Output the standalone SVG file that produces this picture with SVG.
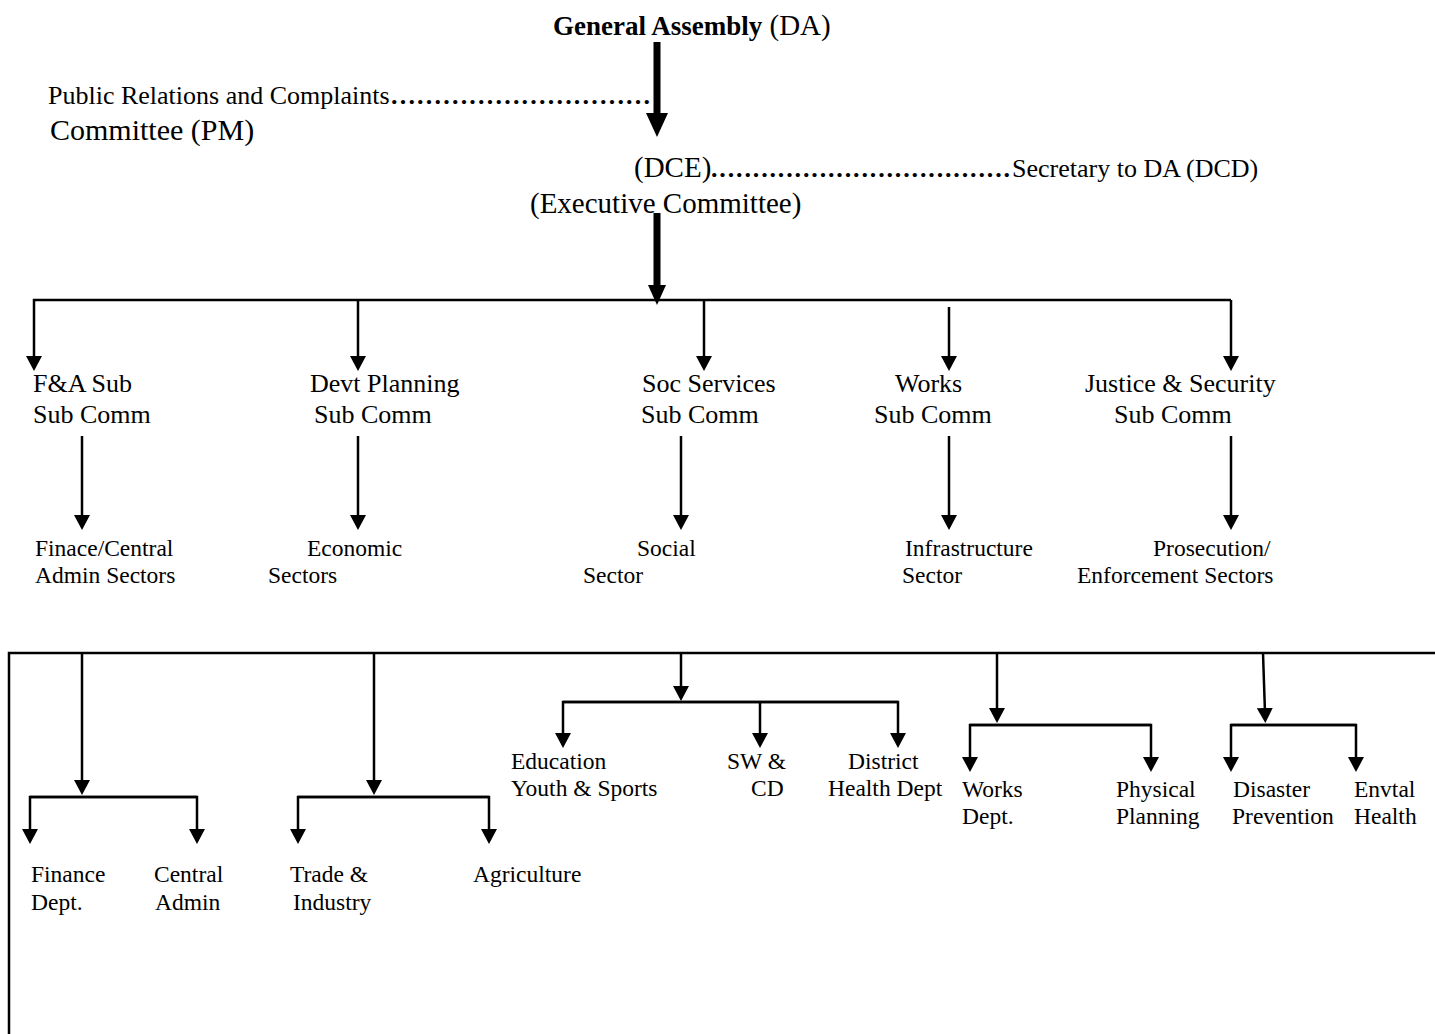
<svg xmlns="http://www.w3.org/2000/svg" width="1435" height="1034" viewBox="0 0 1435 1034">
<style>
text{font-family:"Liberation Serif","Times New Roman",serif;fill:#000}
.lg{font-size:29px}
.md{font-size:26px}
.sm{font-size:23.5px}
.b{font-weight:bold;font-size:27px}
.dots{font-weight:bold;font-size:26px}
.c{fill:none;stroke:#000;stroke-width:2.5}
.ca{fill:none;stroke:#000;stroke-width:2.5;marker-end:url(#ah)}
.thick{fill:none;stroke:#000;stroke-width:7}
</style>
<defs>
<marker id="ah" markerUnits="userSpaceOnUse" viewBox="0 -8 15 16" markerWidth="15" markerHeight="16" refX="5" refY="0" orient="auto"><path d="M0,-8 L15,0 L0,8 z" fill="#000"/></marker>
<marker id="thL" markerUnits="userSpaceOnUse" viewBox="0 -11 24 22" markerWidth="24" markerHeight="22" refX="6" refY="0" orient="auto"><path d="M0,-11 L24,0 L0,11 z" fill="#000"/></marker>
<marker id="thS" markerUnits="userSpaceOnUse" viewBox="0 -9 20 18" markerWidth="20" markerHeight="18" refX="6" refY="0" orient="auto"><path d="M0,-9 L20,0 L0,9 z" fill="#000"/></marker>
</defs>
<rect width="1435" height="1034" fill="#fff"/>

<g id="connectors">
<path class="thick" d="M657,42 V119" marker-end="url(#thL)"/>
<path class="thick" d="M657,213 V291" marker-end="url(#thS)"/>
<path class="ca" d="M1231,300 H34 V361"/>
<path class="ca" d="M1231,300 V361"/>
<path class="ca" d="M358,300 V361"/>
<path class="ca" d="M704,300 V361"/>
<path class="ca" d="M949,307 V361"/>
<path class="ca" d="M82,436 V520"/>
<path class="ca" d="M358,436 V520"/>
<path class="ca" d="M681,436 V520"/>
<path class="ca" d="M949,436 V520"/>
<path class="ca" d="M1231,436 V520"/>
<path class="c" d="M9,1034 V653 H1435"/>
<path class="ca" d="M82,653 V785"/>
<path class="ca" d="M197,797 H30 V834"/>
<path class="ca" d="M30,797 H197 V834"/>
<path class="ca" d="M374,653 V785"/>
<path class="ca" d="M489,797 H298 V834"/>
<path class="ca" d="M298,797 H489 V834"/>
<path class="ca" d="M681,653 V691"/>
<path class="ca" d="M898,702 H563 V738"/>
<path class="ca" d="M563,702 H898 V738"/>
<path class="ca" d="M760,702 V738"/>
<path class="ca" d="M997,653 V713"/>
<path class="ca" d="M1151,725 H970 V762"/>
<path class="ca" d="M970,725 H1151 V762"/>
<path class="ca" d="M1263,653 L1265,713"/>
<path class="ca" d="M1356,725 H1231 V762"/>
<path class="ca" d="M1231,725 H1356 V762"/>
</g>

<g id="general-assembly"><text x="553" y="35"><tspan class="b">General Assembly</tspan><tspan class="lg"> (DA)</tspan></text></g>
<g id="public-relations">
<text class="md" x="48" y="104">Public Relations and Complaints</text>
<text class="dots" x="391" y="104" textLength="259" lengthAdjust="spacing">..............................</text>
<text class="lg" x="50" y="140" style="font-size:30px">Committee (PM)</text>
</g>
<g id="dce">
<text class="lg" x="634" y="177">(DCE)</text>
<text class="dots" x="711" y="177" textLength="299" lengthAdjust="spacing">....................................</text>
<text class="md" x="1012" y="177">Secretary to DA (DCD)</text>
<text class="lg" x="530" y="213">(Executive Committee)</text>
</g>

<g id="fa-sub"><text class="md" x="33" y="392">F&amp;A Sub</text><text class="md" x="33" y="423">Sub Comm</text></g>
<g id="devt-sub"><text class="md" x="310" y="392">Devt Planning</text><text class="md" x="314" y="423">Sub Comm</text></g>
<g id="soc-sub"><text class="md" x="642" y="392">Soc Services</text><text class="md" x="641" y="423">Sub Comm</text></g>
<g id="works-sub"><text class="md" x="895" y="392">Works</text><text class="md" x="874" y="423">Sub Comm</text></g>
<g id="justice-sub"><text class="md" x="1085" y="392">Justice &amp; Security</text><text class="md" x="1114" y="423">Sub Comm</text></g>

<g id="finace-sectors"><text class="sm" x="35" y="556">Finace/Central</text><text class="sm" x="35" y="583">Admin Sectors</text></g>
<g id="economic-sectors"><text class="sm" x="307" y="556">Economic</text><text class="sm" x="268" y="583">Sectors</text></g>
<g id="social-sector"><text class="sm" x="637" y="556">Social</text><text class="sm" x="583" y="583">Sector</text></g>
<g id="infra-sector"><text class="sm" x="905" y="556">Infrastructure</text><text class="sm" x="902" y="583">Sector</text></g>
<g id="prosecution-sectors"><text class="sm" x="1153" y="556">Prosecution/</text><text class="sm" x="1077" y="583">Enforcement Sectors</text></g>

<g id="finance-dept"><text class="sm" x="31" y="882">Finance</text><text class="sm" x="31" y="910">Dept.</text></g>
<g id="central-admin"><text class="sm" x="154" y="882">Central</text><text class="sm" x="155" y="910">Admin</text></g>
<g id="trade-industry"><text class="sm" x="290" y="882">Trade &amp;</text><text class="sm" x="293" y="910">Industry</text></g>
<g id="agriculture"><text class="sm" x="473" y="882">Agriculture</text></g>
<g id="education"><text class="sm" x="511" y="769">Education</text><text class="sm" x="511" y="796">Youth &amp; Sports</text></g>
<g id="sw-cd"><text class="sm" x="727" y="769">SW &amp;</text><text class="sm" x="751" y="796">CD</text></g>
<g id="district-health"><text class="sm" x="848" y="769">District</text><text class="sm" x="828" y="796">Health Dept</text></g>
<g id="works-dept"><text class="sm" x="962" y="797">Works</text><text class="sm" x="962" y="824">Dept.</text></g>
<g id="physical-planning"><text class="sm" x="1116" y="797">Physical</text><text class="sm" x="1116" y="824">Planning</text></g>
<g id="disaster-prevention"><text class="sm" x="1233" y="797">Disaster</text><text class="sm" x="1232" y="824">Prevention</text></g>
<g id="envtal-health"><text class="sm" x="1354" y="797">Envtal</text><text class="sm" x="1354" y="824">Health</text></g>
</svg>
